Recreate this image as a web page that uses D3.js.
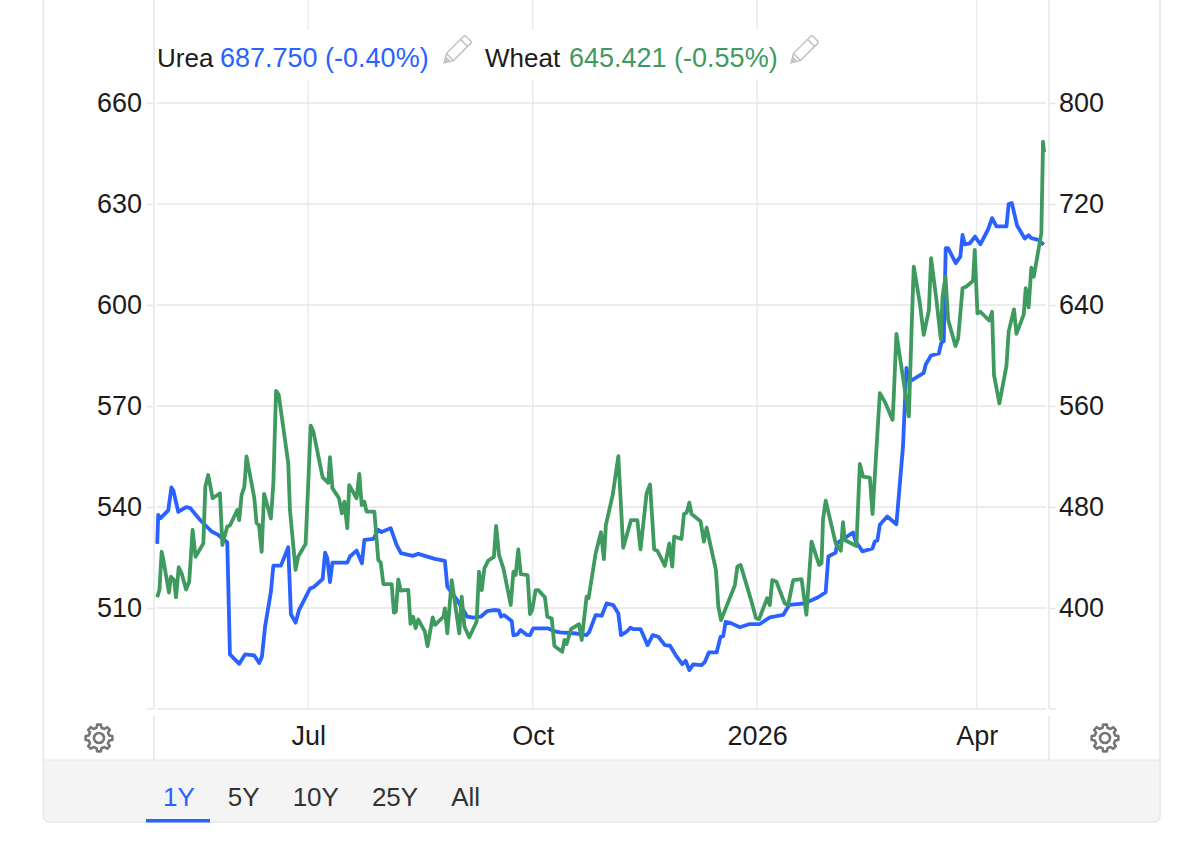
<!DOCTYPE html>
<html>
<head>
<meta charset="utf-8">
<script src="https://cdn.jsdelivr.net/npm/d3@7"></script>
<style>
  html, body { margin: 0; background: #fff; }
  svg { display: block; font-family: "Liberation Sans", Arial, sans-serif; }
</style>
</head>
<body>
<svg id="chart" width="1200" height="852"></svg>
<script>
// days since 30 Apr 2025
const ureaDays = [0.1,0.5,1.5,4.6,5.9,6.7,8.7,11.9,13.5,17.6,22.4,25.1,28.8,29.9,33.7,36.1,39.9,41.9,43,44.3,46.7,47.7,50.8,53.8,54.9,56.8,58.2,62.7,64.1,67.9,68.9,69.8,70.9,71.9,78,79.1,81.8,84,85,88.7,90.7,92,95.8,98.2,100,104.8,107.1,109.8,113.9,118,119,123.5,127.2,129.7,132.7,135.4,137.9,140.2,141,142.2,145.4,146.1,147.7,149,151.5,152.9,154.2,160.4,162.7,165.2,172,176.1,177.2,179.8,182.3,184.3,187,189.1,190.2,192.5,194.1,195.2,198.2,201.1,203.2,205.5,208.2,210.3,212.6,215.3,216.7,218.2,219.8,223.2,224.6,226.2,229.4,231,232.1,233.1,235.5,238.9,243,247.1,251.2,256.7,259.1,265.5,271,274.1,275.2,278.2,278.8,285.3,286.4,289.2,293.3,294.2,295.3,296.3,299.3,303.1,305.8,307.2,308.6,309.9,314.3,315.1,317.3,320.5,321.5,322.5,323.3,324.3,327.4,329.3,330.2,331.1,333.2,335.3,337.5,340.7,342.3,344.1,348.2,349.1,350.4,352.6,355.7,357.3,358.4,361.2,363.5];
const ureaValues = [450.8,473.8,471.2,477.3,495.5,493.1,476.2,479.9,479.4,469.9,460.6,457.9,452.1,363.2,355.8,363.2,362.4,356.4,361.4,385.2,413,433.6,433.6,448.2,395,388.4,398.4,415.4,416.4,423,443.9,439.4,420.6,436,436,440.8,445.5,435.5,454,454.8,461.9,460.1,463.2,450,443.4,441.3,442.9,441.3,438.9,437.3,416.9,405,393.1,392.3,393.1,397.6,398.4,398.1,393.1,394.4,389.7,378.3,379.1,382.5,378.8,378.5,383.8,383.8,381.7,380.7,379.8,378.5,381.2,394.4,393.9,403.7,402.3,395.7,378.5,381.2,384.4,383.3,383.3,370.6,378.5,377.2,370.6,370.1,362.7,355.5,358.2,350.8,355.3,354.7,357.4,364.8,364.8,377.2,377.7,389.1,387.8,384.7,387.3,387.3,392.6,394.5,402.4,403.7,408.5,412.5,440.8,443.9,451.4,459.8,452.7,444.8,447.1,452.7,453.5,465.9,472.5,466.4,528.1,590.2,579.7,581,586.3,592.9,600,601.6,610.1,611.4,685,685,673.1,678.3,695.5,688.1,688.9,694.2,688.1,700,708.8,702.2,702.2,719.9,720.7,702.7,692.6,695.3,692.9,691.6,687.75];
const wheatDays = [0.1,1,1.9,2.6,4.9,5.7,7,7.8,8.9,10.1,11.9,13.2,14.6,15.8,19,19.8,21,22.8,25.8,26.8,28.8,29.9,32.9,33.7,34.7,35.8,36.7,39.9,40.8,41.8,42.9,43.9,46.7,47.7,48.8,49.9,53.8,54.5,56.8,57.9,60.9,62,63,64.1,67.9,70.2,70.9,71.9,74.6,75.8,76.8,78,78.8,81.8,82.9,83.9,85,85.9,89.1,90.7,91.7,92.8,96.2,97.1,97.9,98.9,99.9,103,103.9,105,106,107.1,109.8,110.9,113,114,117.4,118,119,120.8,123.9,124.9,126,128,131,132,133.1,134.2,135.8,138.1,139,140.2,142,145,146.1,147,148.1,149.1,151.9,152.9,153.8,155.2,156.3,159,160,161.8,162.9,166.1,167,167.9,169.7,173,174.1,176.1,176.9,179.8,182,183.2,184,186.8,189.1,191.1,194.3,196.9,198.2,200.7,202.1,203.8,205.1,208.2,210,211.2,212,215,216,217.1,218.2,219.1,222.8,224.2,225.3,229.1,230.1,231.2,236.9,237.9,239.2,241,243.7,245.5,246.8,250.1,251.2,252.2,253.9,257.3,258.7,260.8,264.2,266.2,268.3,271.4,272.4,273,274.1,278.2,280.3,281.2,281.9,286.7,288.1,289.4,292.2,293.3,296.3,298.3,301.5,302,303.1,308.2,309.3,310.2,312.7,314.3,316.4,317.3,319.5,321.3,322,323.2,324.3,327.3,328.4,330.2,331.8,334.5,335.2,336.3,337.5,341.1,342.3,343.1,345.3,348.2,349.1,351.3,352.3,355.3,356.1,357.3,358.4,359.4,362.5,363.2,363.6];
const wheatValues = [513.2,515.4,526.7,524.3,514.6,519.3,518.3,513.2,522.1,520.3,515.5,517.8,533.2,525.2,529.2,546,549.5,542.6,544.1,528.7,534.2,534.5,539.1,536.1,543.6,546,555,542.6,535.2,534.7,526.7,543.9,536.6,547,574.5,573.3,553,539.1,521.3,525.3,529,547,564.2,562.4,548.8,547.2,554.8,545.6,542.6,538.1,541.6,533.7,546.5,542.6,549.8,540.6,541.6,538.6,538.6,524.3,523.5,517.1,517.1,508.6,508.9,518.5,515.2,515.4,505.3,507.4,504,506.6,503,498.7,507.2,505,507.4,509.9,502.5,518.3,502.5,513.4,504.5,501.3,505.9,520.8,515.3,521.8,524.1,525.2,534.4,525.7,521.8,510.9,520.8,519.8,527.4,520.1,519.8,508.2,509.4,515.3,515.3,513.2,507.4,506.9,498.7,497,500.5,499.3,503.7,505.2,500.5,513.4,512.9,526.2,532.5,524.5,534.7,543.6,555.1,527.9,536.1,536.1,527.4,544.1,546.7,527.4,527,522.5,529.2,522.3,531.2,530.5,537.9,538.3,541.3,537.9,535.8,529.7,533.9,521.3,510.4,506.4,516.8,522.3,522.8,518.5,511.9,507,506.7,512.9,510.9,518.3,517.8,511.4,510.9,518.3,518.6,508,529.7,522.8,523.3,536.2,541.9,529.2,527,535.5,530.2,528.4,552.8,549,548.7,537.9,573.8,571.3,565.9,572.8,591.4,566.9,592.6,611.4,600.5,591.1,598.5,613.9,601.5,589.8,602.5,608.4,595.6,587.8,590.1,605,605.5,607.2,616.4,597.5,598,595.4,598,579.2,570.8,581.9,592.1,598.7,591.4,597.2,605,599.3,611.1,608.4,621.3,648.5,645.421];

const leftTicks = [510, 540, 570, 600, 630, 660];
const rightTicks = [400, 480, 560, 640, 720, 800];
const monthTicks = ["2025-07-01", "2025-10-01", "2026-01-01", "2026-04-01"];
const monthLabels = ["Jul", "Oct", "2026", "Apr"];
const tabs = ["1Y", "5Y", "10Y", "25Y", "All"];

const blue = "#2962ff";
const green = "#3f9a60";
const parseDay = d3.utcParse("%Y-%m-%d");
const startDay = parseDay("2025-04-30");
const dayToDate = (d) => new Date(startDay.getTime() + d * 864e5);

const svg = d3.select("#chart");

const xScale = d3.scaleUtc().domain([dayToDate(0), dayToDate(364)]).range([157, 1045]);
const yLeft = d3.scaleLinear().domain([480, 660]).range([709, 103]);
const yRight = d3.scaleLinear().domain([320, 800]).range([709, 103]);

// card and bottom toolbar
svg.append("path")
  .attr("d", "M43.5,0 V816 a6,6 0 0 0 6,6 H1154 a6,6 0 0 0 6,-6 V0")
  .attr("fill", "#fff")
  .attr("stroke", "#e6e6e6")
  .attr("stroke-width", 1.5);
svg.append("path")
  .attr("d", "M44.5,760 H1159 V816 a5,5 0 0 1 -5,5 H49.5 a5,5 0 0 1 -5,-5 Z")
  .attr("fill", "#f4f4f4");
svg.append("line").attr("x1", 44).attr("x2", 1160).attr("y1", 760).attr("y2", 760).attr("stroke", "#e6e6e6");

// plot frame
[154, 1049].forEach((x) => {
  svg.append("line").attr("x1", x).attr("x2", x).attr("y1", 0).attr("y2", 709).attr("stroke", "#e6e6e6").attr("stroke-width", 1.5);
  svg.append("line").attr("x1", x).attr("x2", x).attr("y1", 716).attr("y2", 760).attr("stroke", "#e6e6e6").attr("stroke-width", 1.5);
});

// vertical grid
svg.append("g")
  .selectAll("line")
  .data(monthTicks)
  .join("line")
  .attr("x1", (d) => xScale(parseDay(d)))
  .attr("x2", (d) => xScale(parseDay(d)))
  .attr("y1", 0)
  .attr("y2", 709)
  .attr("stroke", "#e8ebf2")
  .attr("stroke-width", 1.5);

// horizontal grid
svg.append("g")
  .selectAll("line")
  .data(leftTicks)
  .join("line")
  .attr("x1", 157)
  .attr("x2", 1046)
  .attr("y1", (d) => yLeft(d))
  .attr("y2", (d) => yLeft(d))
  .attr("stroke", "#e6e6e6")
  .attr("stroke-width", 1.5);
svg.append("line").attr("x1", 157).attr("x2", 1046).attr("y1", 709).attr("y2", 709).attr("stroke", "#e6e6e6").attr("stroke-width", 1.5);
[[147, 153], [1050, 1056]].forEach((r) => {
  svg.append("line").attr("x1", r[0]).attr("x2", r[1]).attr("y1", 709).attr("y2", 709).attr("stroke", "#e6e6e6").attr("stroke-width", 1.5);
});

// axes
const leftAxis = svg.append("g")
  .attr("transform", "translate(154,0)")
  .call(d3.axisLeft(yLeft).tickValues(leftTicks).tickSize(7).tickPadding(5));
const rightAxis = svg.append("g")
  .attr("transform", "translate(1049,0)")
  .call(d3.axisRight(yRight).tickValues(rightTicks).tickSize(7).tickPadding(3));
const bottomAxis = svg.append("g")
  .attr("transform", "translate(0,721)")
  .call(d3.axisBottom(xScale)
    .tickValues(monthTicks.map(parseDay))
    .tickFormat((d, i) => monthLabels[i])
    .tickSize(0)
    .tickPadding(5));
[leftAxis, rightAxis, bottomAxis].forEach((g) => {
  g.select(".domain").remove();
  g.selectAll("line").attr("stroke", "#e6e6e6").attr("stroke-width", 1.5);
  g.selectAll("text")
    .attr("fill", "#1c1c1c")
    .style("font-family", "'Liberation Sans', Arial, sans-serif")
    .style("font-size", "27px");
});

// series
const lineOf = (y) => d3.line()
  .x((d) => xScale(dayToDate(d[0])))
  .y((d) => y(d[1]));

svg.append("path")
  .datum(d3.zip(ureaDays, ureaValues))
  .attr("d", lineOf(yRight))
  .attr("fill", "none")
  .attr("stroke", blue)
  .attr("stroke-width", 3.8)
  .attr("stroke-linejoin", "round");

svg.append("path")
  .datum(d3.zip(wheatDays, wheatValues))
  .attr("d", lineOf(yLeft))
  .attr("fill", "none")
  .attr("stroke", green)
  .attr("stroke-width", 3.8)
  .attr("stroke-linejoin", "round");

// legend
svg.append("rect").attr("x", 155).attr("y", 30).attr("width", 680).attr("height", 50).attr("fill", "#fff");
const legendText = (x, txt, color, size) => svg.append("text")
  .attr("x", x).attr("y", 67)
  .attr("fill", color)
  .style("font-size", size)
  .text(txt);
legendText(157, "Urea", "#1c1c1c", "26px");
legendText(220, "687.750 (-0.40%)", blue, "27px");
legendText(485, "Wheat", "#1c1c1c", "26px");
legendText(569, "645.421 (-0.55%)", green, "27px");

const pencil = (cx, cy) => svg.append("path")
  .attr("transform", `translate(${cx},${cy}) rotate(-45)`)
  .attr("d", "M-18,0 L-10,-5 H14 a2,2 0 0 1 2,2 V3 a2,2 0 0 1 -2,2 H-10 Z M-10,-5 V5 M10,-5 V5 M-18,0 L-13,-1.5 V1.5 Z")
  .attr("fill", "none")
  .attr("stroke", "#c2c2c2")
  .attr("stroke-width", 1.5);
pencil(457, 50);
pencil(804, 50);

// gear icons
const gearPoints = [];
d3.range(8).forEach((i) => {
  const a = (i * Math.PI) / 4;
  const step = Math.PI / 4;
  gearPoints.push([a - step * 0.3, 10.5], [a - step * 0.18, 13.5], [a + step * 0.18, 13.5], [a + step * 0.3, 10.5]);
});
const gearLine = d3.lineRadial().curve(d3.curveLinearClosed);
[99, 1105].forEach((cx) => {
  const g = svg.append("g").attr("transform", `translate(${cx},738)`).attr("fill", "none").attr("stroke", "#767676").attr("stroke-width", 2.6);
  g.append("path").attr("d", gearLine(gearPoints)).attr("stroke-linejoin", "round");
  g.append("circle").attr("r", 5);
});

// range tabs, laid out left to right from their text widths
let tabX = 163;
svg.append("g")
  .selectAll("text")
  .data(tabs)
  .join("text")
  .attr("y", 806)
  .attr("fill", (d, i) => (i === 0 ? blue : "#333"))
  .style("font-size", "26px")
  .text((d) => d)
  .each(function () {
    d3.select(this).attr("x", tabX);
    tabX += this.getComputedTextLength() + 33;
  });
svg.append("rect").attr("x", 146).attr("y", 819).attr("width", 64).attr("height", 3.5).attr("fill", blue);
</script>
</body>
</html>
